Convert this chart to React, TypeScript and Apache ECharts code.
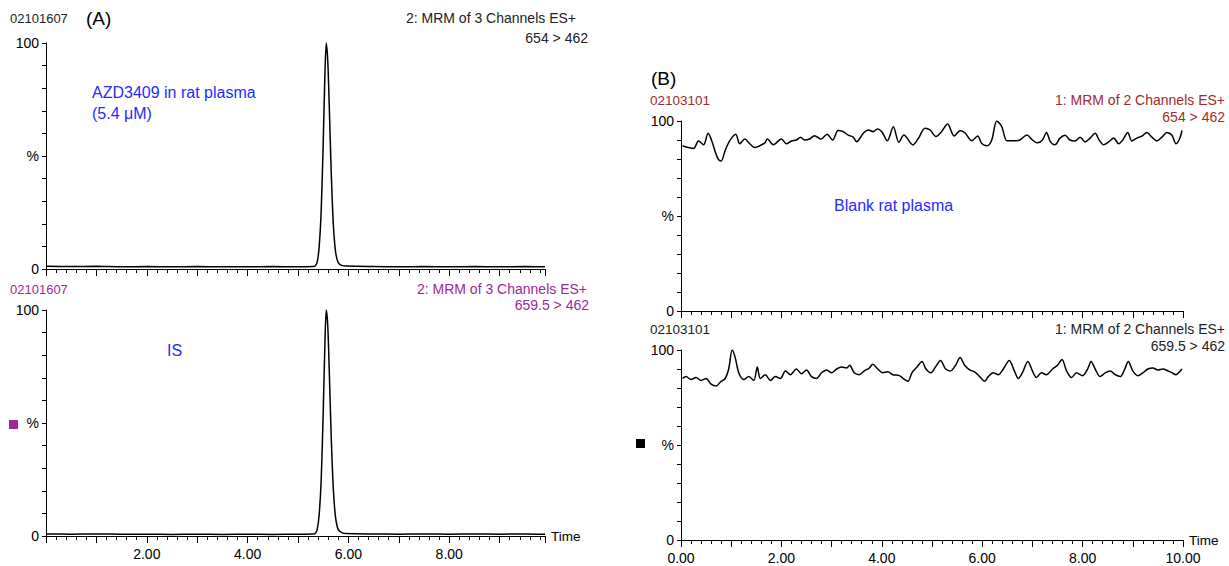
import React, { useEffect, useRef } from 'react';
import * as echarts from 'echarts';

// Panel A: AZD3409 (654 > 462) in rat plasma, time (min) vs relative intensity (%)
const analyteA: [number, number][] = [
  [0.02, 1.2], [0.5, 1.1], [1.0, 1.2], [1.5, 1.0], [2.0, 1.1], [2.5, 1.0], [3.0, 1.1], [3.5, 1.0],
  [4.0, 1.0], [4.5, 1.1], [5.0, 1.0], [5.3, 1.1], [5.34, 1.3], [5.38, 3], [5.42, 10], [5.46, 26],
  [5.5, 56], [5.53, 83], [5.56, 100], [5.59, 92], [5.62, 72], [5.66, 42], [5.7, 20], [5.74, 8.5],
  [5.78, 3.8], [5.82, 2.2], [5.88, 1.5], [5.95, 1.3], [6.5, 1.1], [7.0, 1.0], [7.5, 1.1], [8.0, 1.0],
  [8.5, 1.1], [9.0, 1.0], [9.5, 1.1], [9.9, 1.0]
];
// Panel A: internal standard (659.5 > 462)
const isA: [number, number][] = [
  [0.02, 0.9], [0.5, 0.8], [1.0, 0.9], [1.5, 0.8], [2.0, 0.8], [2.5, 0.7], [3.0, 0.8], [3.5, 0.7],
  [4.0, 0.8], [4.5, 0.7], [5.0, 0.8], [5.3, 0.9], [5.34, 1.1], [5.38, 2.8], [5.42, 9.5], [5.46, 25],
  [5.5, 55], [5.53, 82], [5.56, 100], [5.59, 93], [5.62, 73], [5.66, 43], [5.7, 21], [5.74, 9],
  [5.78, 4], [5.82, 2.2], [5.88, 1.4], [5.95, 1.1], [6.5, 0.9], [7.0, 0.8], [7.5, 0.9], [8.0, 0.8],
  [8.5, 0.9], [9.0, 0.8], [9.5, 0.9], [9.9, 0.8]
];
// Panel B: blank rat plasma, 654 > 462
const blank654: [number, number][] = [
  [0.03, 87], [0.15, 86], [0.25, 85.5], [0.35, 89.5], [0.45, 87.5], [0.54, 93.5], [0.62, 89], [0.68, 84],
  [0.74, 80], [0.8, 79], [0.88, 84.5], [0.97, 89.5], [1.09, 93], [1.17, 88], [1.27, 90.5], [1.37, 88],
  [1.47, 86], [1.57, 87], [1.67, 88.5], [1.72, 90.5], [1.84, 87.5], [2.0, 90.5], [2.1, 88], [2.2, 89.5],
  [2.3, 90], [2.38, 91.5], [2.46, 90], [2.56, 90.5], [2.66, 92.3], [2.79, 90.5], [2.91, 93], [3.02, 90],
  [3.13, 95], [3.23, 94.4], [3.33, 92.6], [3.43, 91.5], [3.5, 89.1], [3.63, 93.5], [3.73, 95.3], [3.83, 94.4],
  [3.91, 95.8], [4.0, 94.4], [4.11, 89.6], [4.23, 97], [4.34, 88.8], [4.44, 92.6], [4.62, 87.4], [4.73, 90.9],
  [4.86, 96.2], [4.96, 95.3], [5.08, 91.8], [5.19, 94.4], [5.31, 98.4], [5.44, 92.1], [5.56, 94.9], [5.66, 93.7],
  [5.79, 89.6], [5.91, 92.1], [5.99, 88.2], [6.1, 87], [6.19, 90], [6.29, 100], [6.39, 97], [6.49, 89.6],
  [6.62, 89.6], [6.75, 90], [6.89, 92.6], [7.0, 90], [7.1, 88.5], [7.2, 90], [7.28, 94], [7.36, 89],
  [7.45, 87.5], [7.55, 91], [7.65, 92.5], [7.75, 90], [7.85, 89.5], [7.95, 91.5], [8.05, 89], [8.15, 91],
  [8.25, 93.5], [8.33, 90], [8.42, 87.5], [8.52, 89], [8.62, 91], [8.72, 88], [8.8, 90], [8.9, 94],
  [8.98, 89.5], [9.08, 91], [9.18, 92], [9.28, 94], [9.38, 91.5], [9.48, 89.5], [9.58, 91.5], [9.68, 94],
  [9.78, 92.5], [9.86, 88], [9.93, 90.5], [9.98, 95]
];
// Panel B: blank rat plasma, 659.5 > 462
const blank659: [number, number][] = [
  [0.03, 85], [0.1, 86], [0.2, 84.5], [0.3, 85.5], [0.4, 84], [0.5, 85], [0.6, 82], [0.7, 81],
  [0.78, 83], [0.88, 85], [0.95, 90], [1.02, 100], [1.08, 96], [1.15, 88], [1.25, 84.5], [1.35, 86],
  [1.45, 84], [1.52, 91], [1.58, 85], [1.68, 87], [1.78, 84], [1.88, 86], [1.98, 85], [2.08, 89],
  [2.18, 87], [2.3, 90], [2.4, 87.5], [2.5, 89.5], [2.6, 86], [2.7, 85], [2.8, 88], [2.9, 89.5],
  [3.0, 88], [3.1, 90], [3.2, 91], [3.3, 90.5], [3.36, 92], [3.45, 88], [3.55, 87], [3.65, 89],
  [3.75, 90.5], [3.82, 92.5], [3.92, 90], [4.02, 88], [4.12, 88.5], [4.22, 87], [4.35, 86.5], [4.45, 84.5],
  [4.52, 83.5], [4.6, 88], [4.7, 91], [4.8, 94], [4.88, 90], [4.98, 88], [5.08, 91.5], [5.17, 94.5],
  [5.27, 90], [5.37, 89], [5.47, 92], [5.56, 96], [5.65, 92], [5.75, 89.5], [5.85, 88.5], [5.95, 86],
  [6.05, 83.5], [6.12, 86], [6.22, 88], [6.32, 87], [6.42, 90], [6.54, 94.5], [6.64, 89], [6.72, 85],
  [6.8, 88], [6.91, 94], [7.0, 89], [7.08, 85.5], [7.18, 88], [7.28, 87], [7.4, 90], [7.5, 92],
  [7.59, 95], [7.68, 89], [7.78, 85.5], [7.88, 88], [8.0, 86.5], [8.1, 90], [8.17, 94], [8.25, 90],
  [8.35, 86], [8.45, 88], [8.55, 89], [8.65, 87], [8.75, 86], [8.84, 90], [8.91, 94], [9.0, 89],
  [9.1, 86.5], [9.2, 88], [9.3, 90], [9.4, 90.5], [9.5, 89.5], [9.6, 90], [9.7, 89], [9.78, 88],
  [9.86, 87], [9.93, 88.5], [9.98, 90]
];

const FONT = '"Liberation Sans", Arial, sans-serif';
const BLUE = '#1f2bff';
const PURPLE = '#9a2a96';
const DARKRED = '#a32a2c';

export default function App() {
  const ref = useRef<HTMLDivElement>(null);
  useEffect(() => {
    if (!ref.current) return;
    const chart = echarts.init(ref.current, null, { renderer: 'svg' });

    const grids = [
      { left: 46, top: 43, width: 499, height: 226 },
      { left: 46, top: 310, width: 499, height: 226 },
      { left: 681, top: 121, width: 502, height: 190 },
      { left: 681, top: 350, width: 502, height: 190 }
    ];

    const xAxisBase = (gi: number, panelB: boolean, showLabels: boolean) => ({
      type: 'value',
      gridIndex: gi,
      min: 0,
      max: panelB ? 10 : 9.9,
      interval: 1,
      splitLine: { show: false },
      axisLine: { show: true, onZero: false, lineStyle: { color: '#000', width: 1 } },
      axisTick: { show: true, length: 7, lineStyle: { color: '#000', width: 1 } },
      minorTick: { show: true, splitNumber: 5, length: 4, lineStyle: { color: '#000', width: 1 } },
      axisLabel: {
        show: showLabels,
        margin: 11,
        fontFamily: FONT,
        fontSize: 14,
        color: '#000',
        showMaxLabel: true,
        showMinLabel: true,
        formatter: (v: number) => {
          if (Math.abs(v % 2) > 1e-6) return '';
          if (!panelB && v === 0) return '';
          return v.toFixed(2);
        }
      },
      name: showLabels ? 'Time' : '',
      nameLocation: 'end',
      nameGap: 6,
      nameTextStyle: { fontFamily: FONT, fontSize: 13.5, color: '#000', verticalAlign: 'middle' }
    });

    const yAxisBase = (gi: number) => ({
      type: 'value',
      gridIndex: gi,
      min: 0,
      max: 100,
      interval: 10,
      splitLine: { show: false },
      axisLine: { show: true, lineStyle: { color: '#000', width: 1 } },
      axisTick: { show: true, length: 4, lineStyle: { color: '#000', width: 1 } },
      axisLabel: {
        margin: 7,
        fontFamily: FONT,
        fontSize: 14,
        color: '#000',
        formatter: (v: number) => (v === 0 ? '0' : v === 100 ? '100' : v === 50 ? '%' : '')
      }
    });

    const lineSeries = (data: [number, number][], i: number) => ({
      type: 'line',
      xAxisIndex: i,
      yAxisIndex: i,
      data,
      showSymbol: false,
      symbol: 'none',
      smooth: 0.3,
      lineStyle: { color: '#000', width: 1.5 },
      silent: true
    });

    const txt = (text: string, x: number, y: number, opts: any = {}) => ({
      type: 'text',
      x,
      y,
      silent: true,
      style: {
        text,
        fill: opts.fill || '#222',
        font: `${opts.size || 14}px ${FONT}`,
        align: opts.align || 'left',
        textAlign: opts.align || 'left',
        verticalAlign: 'middle',
        textVerticalAlign: 'middle'
      }
    });

    chart.setOption({
      animation: false,
      backgroundColor: '#fff',
      grid: grids,
      xAxis: [
        xAxisBase(0, false, false),
        xAxisBase(1, false, true),
        xAxisBase(2, true, false),
        xAxisBase(3, true, true)
      ],
      yAxis: [yAxisBase(0), yAxisBase(1), yAxisBase(2), yAxisBase(3)],
      series: [
        lineSeries(analyteA, 0),
        lineSeries(isA, 1),
        lineSeries(blank654, 2),
        lineSeries(blank659, 3)
      ],
      graphic: [
        txt('02101607', 10, 18, { size: 13 }),
        txt('(A)', 86, 18, { size: 19, fill: '#000' }),
        txt('2: MRM of 3 Channels ES+', 576, 18, { align: 'right' }),
        txt('654 > 462', 588, 38, { align: 'right' }),
        txt('AZD3409 in rat plasma', 92, 92, { size: 16, fill: BLUE }),
        txt('(5.4 μM)', 92, 113, { size: 16, fill: BLUE }),
        txt('02101607', 10, 289, { size: 13, fill: PURPLE }),
        txt('2: MRM of 3 Channels ES+', 587, 289, { align: 'right', fill: PURPLE }),
        txt('659.5 > 462', 589, 305, { align: 'right', fill: PURPLE }),
        txt('IS', 167, 350, { size: 16, fill: BLUE }),
        { type: 'rect', shape: { x: 9, y: 420, width: 9, height: 9 }, style: { fill: PURPLE } },
        txt('(B)', 651, 78, { size: 19, fill: '#000' }),
        txt('02103101', 650, 100, { size: 13.5, fill: DARKRED }),
        txt('1: MRM of 2 Channels ES+', 1225, 100, { align: 'right', fill: DARKRED }),
        txt('654 > 462', 1225, 117, { align: 'right', fill: DARKRED }),
        txt('Blank rat plasma', 834, 205, { size: 16, fill: BLUE }),
        txt('02103101', 650, 329, { size: 13.5 }),
        txt('1: MRM of 2 Channels ES+', 1225, 329, { align: 'right' }),
        txt('659.5 > 462', 1225, 346, { align: 'right' }),
        { type: 'rect', shape: { x: 636, y: 439, width: 9, height: 9 }, style: { fill: '#000' } }
      ]
    });

    return () => chart.dispose();
  }, []);

  return (
    <div
      ref={ref}
      style={{ position: 'fixed', left: 0, top: 0, width: 1229, height: 566, background: '#fff' }}
    />
  );
}
